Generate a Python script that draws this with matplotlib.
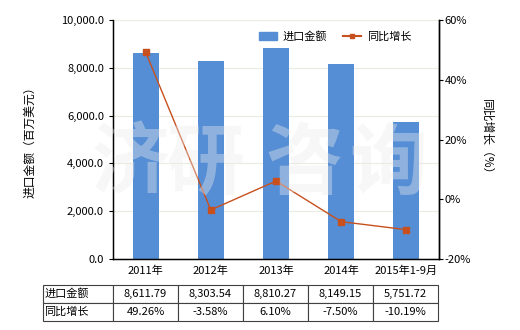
import matplotlib
matplotlib.use("Agg")
import matplotlib.pyplot as plt
from matplotlib.ticker import FuncFormatter, MultipleLocator
from matplotlib.lines import Line2D
from matplotlib.patches import Patch
import numpy as np

plt.rcParams['font.family'] = ['Noto Sans CJK SC', 'DejaVu Sans']

categories = ['2011年', '2012年', '2013年', '2014年', '2015年1-9月']
import_value = [8611.79, 8303.54, 8810.27, 8149.15, 5751.72]
yoy_growth = [49.26, -3.58, 6.10, -7.50, -10.19]
value_labels = ['8,611.79', '8,303.54', '8,810.27', '8,149.15', '5,751.72']
growth_labels = ['49.26%', '-3.58%', '6.10%', '-7.50%', '-10.19%']

bar_color = '#558ed5'
line_color = '#c8501e'

fig = plt.figure(figsize=(5.2, 3.3), dpi=100)
W, H = 520, 330
ax = fig.add_axes([113 / W, 1 - 259 / H, 326 / W, 239 / H])

x = np.arange(len(categories))
ax.bar(x, import_value, width=0.4, color=bar_color, zorder=2)
ax.set_xlim(-0.5, len(categories) - 0.5)
ax.set_ylim(0, 10000)
ax.yaxis.set_major_locator(MultipleLocator(2000))
ax.yaxis.set_major_formatter(FuncFormatter(lambda v, p: f'{v:,.1f}'))
ax.set_xticks(x)
ax.set_xticklabels(categories, fontsize=8)
ax.tick_params(axis='x', length=0, pad=5)
ax.tick_params(axis='y', labelsize=8, length=3, width=0.8)
ax.grid(axis='y', color='#ebebe0', linewidth=0.8, zorder=0)
ax.spines['top'].set_visible(False)
for s in ['left', 'bottom', 'right']:
    ax.spines[s].set_linewidth(1.0)
ax.set_ylabel('进口金额（百万美元）', fontsize=8.5, labelpad=18)

ax2 = ax.twinx()
ax2.plot(x, yoy_growth, color=line_color, linewidth=1.0, marker='s',
         markersize=4.5, zorder=3)
ax2.set_ylim(-20, 60)
ax2.yaxis.set_major_locator(MultipleLocator(20))
ax2.yaxis.set_major_formatter(FuncFormatter(lambda v, p: f'{v:.0f}%'))
ax2.tick_params(axis='y', labelsize=8, length=3, width=0.8, pad=1)
ax2.spines['top'].set_visible(False)
ax2.spines['right'].set_linewidth(1.0)
ax2.set_ylabel('同比增长（%）', fontsize=8.5, rotation=-90, labelpad=16)

handles = [Patch(color=bar_color),
           Line2D([0], [0], color=line_color, marker='s', markersize=3, linewidth=1.5)]
ax.legend(handles, ['进口金额', '同比增长'], loc='upper right', ncol=2,
          frameon=False, fontsize=8, bbox_to_anchor=(0.945, 0.995),
          handlelength=1.6, columnspacing=1.5, handletextpad=0.5)

# data table under the chart
cell_text = [['进口金额'] + value_labels, ['同比增长'] + growth_labels]
tbl = ax.table(cellText=cell_text,
               colWidths=[70] + [65] * 5,
               bbox=[(43 - 113) / 326, (259 - 321) / 239, 395 / 326, 36 / 239],
               cellLoc='center')
tbl.auto_set_font_size(False)
tbl.set_fontsize(8)
for (r, c), cell in tbl.get_celld().items():
    cell.set_edgecolor('#404040')
    cell.set_linewidth(0.8)
    if c == 0:
        cell.set_text_props(ha='left')
        cell._loc = 'left'
        cell.PAD = 0.02

# watermark
for ch, cx in zip('济研咨询', [130, 205, 304, 388]):
    fig.text(cx / W, 1 - 165 / H, ch, fontsize=56, fontweight='bold',
             color='#ececec', alpha=0.38, ha='center', va='center', zorder=10)

fig.savefig('out.png', dpi=100)
